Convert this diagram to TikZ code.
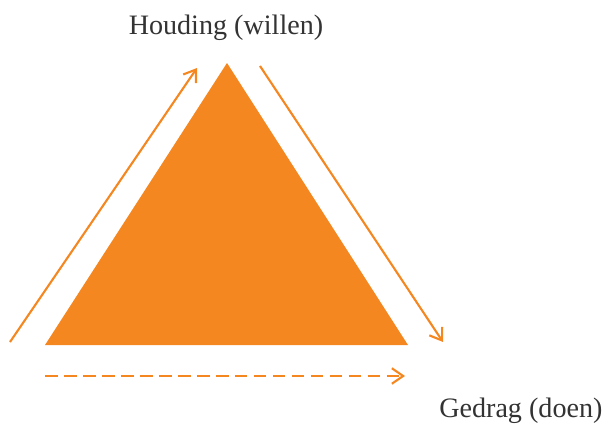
\documentclass[tikz,border=0pt]{standalone}
\usepackage{fontspec}
\setmainfont{Liberation Serif}
\usetikzlibrary{arrows.meta}
\definecolor{oranje}{HTML}{F58720}

\begin{document}
\begin{tikzpicture}[x=0.025cm, y=-0.025cm]
				% Stijlen
				\tikzset{pijl/.style={draw=oranje, line width=1.5pt, -{Straight Barb[length=8pt, width=11pt, line width=1.5pt]}},
					label/.style={font=\fontsize{20}{22}\selectfont, inner sep=0pt, text=black!80}}
				\useasboundingbox (0,0) rectangle (605,426);
				
				% Driehoek
				\fill[oranje] (227,63) -- (408,345) -- (45,345) -- cycle;
				
				% Teksten
				\node[label, anchor=base] (houding) at (226,35) {Houding (willen)};
				\node[label, anchor=base west] (gedrag) at (439,417) {Gedrag (doen)};
				
				% Eindpunten van de pijlen
				\coordinate (L_start) at (10,342);
				\coordinate (L_eind)  at (197,68);
				\coordinate (R_start) at (260,66);
				\coordinate (R_eind)  at (443,342);
				\coordinate (O_start) at (45,376);
				\coordinate (O_eind)  at (405,376);
				
				% Pijlen
				\draw[pijl] (L_start) -- (L_eind);
				\draw[pijl] (R_start) -- (R_eind);
				\draw[pijl, dash pattern=on 9pt off 4.5pt] (O_start) -- (O_eind);
				
			\end{tikzpicture}
\end{document}
